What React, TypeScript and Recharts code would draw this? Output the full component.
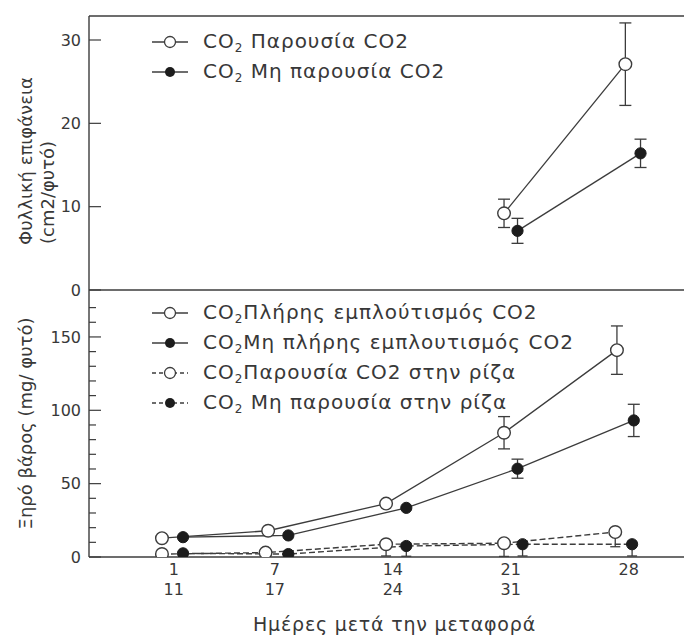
import React from 'react';
import { ComposedChart, Line, XAxis, YAxis, ErrorBar, ReferenceLine, Legend } from 'recharts';

const INK = '#383838';
const LINE = '#3c3c3c';
const FONT = '"DejaVu Sans", "Liberation Sans", sans-serif';

// shared day axis
const X_DOMAIN: [number, number] = [-4.03, 31.28];
const dayTicks = [1, 7, 14, 21, 28];
const dayTicksSecond = ['11', '17', '24', '31', ''];

// ---- top panel: Φυλλική επιφάνεια (cm2/φυτό)
const leafYDomain: [number, number] = [0, 32.88];
const leafYTicks = [0, 10, 20, 30];
const leafOpenX = [20.6, 27.8];
const leafOpenY = [9.2, 27.1];
const leafOpenErr = [1.7, 4.95];
const leafFilledX = [21.4, 28.7];
const leafFilledY = [7.1, 16.4];
const leafFilledErr = [1.5, 1.7];

// ---- bottom panel: Ξηρό βάρος (mg/ φυτό)
const dryYDomain: [number, number] = [0, 182];
const dryYTicks = [0, 50, 100, 150];
const dryMinorTicks = [10, 20, 30, 40, 60, 70, 80, 90, 110, 120, 130, 140, 160, 170];

const fullOpenX = [0.3, 6.6, 13.6, 20.6, 27.3];
const fullOpenY = [12.8, 17.9, 36.4, 84.7, 141];
const fullOpenErr = [0, 0, 0, 11, 16.5];

const partFilledX = [1.55, 7.8, 14.8, 21.4, 28.3];
const partFilledY = [13.5, 14.7, 33.5, 60.2, 93.1];
const partFilledErr = [0, 0, 0, 6.5, 11];

const rootOpenX = [0.3, 6.45, 13.6, 20.6, 27.2];
const rootOpenY = [2, 3, 8.7, 9.4, 17];
const rootOpenErr = [[1.5, 1.5], [1.5, 1.5], [8, 2], [9, 2], [10, 2]];

const rootFilledX = [1.55, 7.8, 14.8, 21.7, 28.2];
const rootFilledY = [2.5, 2, 7.5, 8.7, 8.7];
const rootFilledErr = [[1, 1], [1, 1], [7, 2], [8, 2], [8, 2]];

const topLegend = [
  { rest: ' Παρουσία CO2', filled: false, dashed: false },
  { rest: ' Μη παρουσία CO2', filled: true, dashed: false },
];
const bottomLegend = [
  { rest: 'Πλήρης εμπλούτισμός CO2', filled: false, dashed: false },
  { rest: 'Μη πλήρης εμπλουτισμός CO2', filled: true, dashed: false },
  { rest: 'Παρουσία CO2 στην ρίζα', filled: false, dashed: true },
  { rest: ' Μη παρουσία στην ρίζα', filled: true, dashed: true },
];

const zip = (xs: number[], ys: number[], es: any[]) => xs.map((x, i) => ({ x, y: ys[i], err: es[i] }));

const leafOpen = zip(leafOpenX, leafOpenY, leafOpenErr);
const leafFilled = zip(leafFilledX, leafFilledY, leafFilledErr);
const fullOpen = zip(fullOpenX, fullOpenY, fullOpenErr);
const partFilled = zip(partFilledX, partFilledY, partFilledErr);
const rootOpen = zip(rootOpenX, rootOpenY, rootOpenErr);
const rootFilled = zip(rootFilledX, rootFilledY, rootFilledErr);

const OpenDot = (props: any) => {
  const { cx, cy } = props;
  if (cx == null || cy == null) return null;
  return <circle cx={cx} cy={cy} r={6.3} fill="#fff" stroke={LINE} strokeWidth={1.4} />;
};
const FilledDot = (props: any) => {
  const { cx, cy } = props;
  if (cx == null || cy == null) return null;
  return <circle cx={cx} cy={cy} r={5.6} fill="#1c1c1c" stroke="#1c1c1c" strokeWidth={1} />;
};

const LegendBox = ({ items }: { items: typeof bottomLegend }) => (
  <div style={{ fontFamily: FONT, color: INK }}>
    {items.map((it) => (
      <div key={it.rest} style={{ display: 'flex', alignItems: 'center', height: 30 }}>
        <svg width={36} height={30} style={{ flex: 'none' }}>
          <line x1={0} x2={36} y1={15} y2={15} stroke={LINE} strokeWidth={1.3} strokeDasharray={it.dashed ? '4 3' : undefined} />
          {it.filled ? (
            <circle cx={18} cy={15} r={5} fill="#1c1c1c" />
          ) : (
            <circle cx={18} cy={15} r={5.5} fill="#fff" stroke={LINE} strokeWidth={1.3} />
          )}
        </svg>
        <span style={{ marginLeft: 15, fontSize: 20, letterSpacing: 1, whiteSpace: 'nowrap', lineHeight: '30px' }}>
          CO<span style={{ fontSize: 12, position: 'relative', top: 4 }}>2</span>
          {it.rest}
        </span>
      </div>
    ))}
  </div>
);

const DayTick = (props: any) => {
  const { x, y, payload } = props;
  const i = dayTicks.indexOf(payload.value);
  return (
    <g>
      <text x={x} y={y} dy={10} textAnchor="middle" fill={INK} fontSize={16}>
        {payload.value}
      </text>
      <text x={x} y={y} dy={30} textAnchor="middle" fill={INK} fontSize={16}>
        {dayTicksSecond[i]}
      </text>
    </g>
  );
};

const TopYTitle = () => (
  <g fill={INK} fontSize={18}>
    <text x={25} y={245} transform="rotate(-90 25 245)" dominantBaseline="central">
      Φυλλική επιφάνεια
    </text>
    <text x={47} y={244} transform="rotate(-90 47 244)" dominantBaseline="central">
      (cm2/φυτό)
    </text>
  </g>
);

const BottomYTitle = (props: any) => {
  const vb = props.viewBox || { y: 0, height: 267 };
  const cy = vb.y + vb.height / 2;
  return (
    <text x={25} y={cy} transform={`rotate(-90 25 ${cy})`} textAnchor="middle" dominantBaseline="central" fill={INK} fontSize={18}>
      Ξηρό βάρος (mg/ φυτό)
    </text>
  );
};

const XTitle = (props: any) => {
  const vb = props.viewBox || { x: 89, width: 595, y: 267 };
  return (
    <text x={vb.x + vb.width / 2 + 8} y={334} textAnchor="middle" dominantBaseline="central" fill={INK} fontSize={19} letterSpacing={0.8}>
      Ημέρες μετά την μεταφορά
    </text>
  );
};

const tickLen = (px: number) => px / 16.85;

export default function App() {
  return (
    <div style={{ position: 'absolute', left: 0, top: 0, width: 684, height: 637, background: '#fff', fontFamily: FONT }}>
      <div style={{ position: 'absolute', left: 0, top: 0 }}>
        <ComposedChart width={684} height={300} margin={{ top: 16, right: 0, bottom: 0, left: 0 }}>
          <XAxis type="number" dataKey="x" domain={X_DOMAIN} allowDataOverflow ticks={dayTicks} tick={false} tickLine={false} height={10} axisLine={{ stroke: LINE, strokeWidth: 1.4 }} />
          <YAxis type="number" width={89} domain={leafYDomain} allowDataOverflow ticks={leafYTicks} tickLine={false} axisLine={{ stroke: LINE, strokeWidth: 1.4 }} tick={{ fill: INK, fontSize: 16 }} label={<TopYTitle />} />
          <ReferenceLine y={leafYDomain[1]} stroke={LINE} strokeWidth={1.4} />
          {leafYTicks.map((v) => (
            <ReferenceLine key={'lt' + v} segment={[{ x: X_DOMAIN[0], y: v }, { x: X_DOMAIN[0] + tickLen(12), y: v }]} stroke={LINE} strokeWidth={1.2} />
          ))}
          <Line data={leafOpen} dataKey="y" stroke={LINE} strokeWidth={1.3} dot={<OpenDot />} isAnimationActive={false} legendType="none">
            <ErrorBar dataKey="err" direction="y" width={6} stroke={LINE} strokeWidth={1.3} isAnimationActive={false} />
          </Line>
          <Line data={leafFilled} dataKey="y" stroke={LINE} strokeWidth={1.3} dot={<FilledDot />} isAnimationActive={false} legendType="none">
            <ErrorBar dataKey="err" direction="y" width={6} stroke={LINE} strokeWidth={1.3} isAnimationActive={false} />
          </Line>
          <Legend layout="horizontal" align="center" verticalAlign="middle" content={() => <LegendBox items={topLegend} />} wrapperStyle={{ top: 27, left: 152, width: 'auto', height: 'auto' }} />
        </ComposedChart>
      </div>
      <div style={{ position: 'absolute', left: 0, top: 290 }}>
        <ComposedChart width={684} height={347} margin={{ top: 0, right: 0, bottom: 0, left: 0 }}>
          <XAxis type="number" dataKey="x" domain={X_DOMAIN} allowDataOverflow ticks={dayTicks} tickLine={false} height={80} axisLine={{ stroke: LINE, strokeWidth: 1.4 }} tick={<DayTick />} label={<XTitle />} />
          <YAxis type="number" width={89} domain={dryYDomain} allowDataOverflow ticks={dryYTicks} tickLine={false} axisLine={{ stroke: LINE, strokeWidth: 1.4 }} tick={{ fill: INK, fontSize: 16 }} label={<BottomYTitle />} />
          {dryYTicks.map((v) => (
            <ReferenceLine key={'dt' + v} segment={[{ x: X_DOMAIN[0], y: v }, { x: X_DOMAIN[0] + tickLen(12), y: v }]} stroke={LINE} strokeWidth={1.2} />
          ))}
          {dryMinorTicks.map((v) => (
            <ReferenceLine key={'dm' + v} segment={[{ x: X_DOMAIN[0], y: v }, { x: X_DOMAIN[0] + tickLen(7), y: v }]} stroke={LINE} strokeWidth={1.2} />
          ))}
          <Line data={rootOpen} dataKey="y" stroke={LINE} strokeWidth={1.4} strokeDasharray="6 3" dot={<OpenDot />} isAnimationActive={false} legendType="none">
            <ErrorBar dataKey="err" direction="y" width={5} stroke={LINE} strokeWidth={1.3} isAnimationActive={false} />
          </Line>
          <Line data={rootFilled} dataKey="y" stroke={LINE} strokeWidth={1.4} strokeDasharray="6 3" dot={<FilledDot />} isAnimationActive={false} legendType="none">
            <ErrorBar dataKey="err" direction="y" width={5} stroke={LINE} strokeWidth={1.3} isAnimationActive={false} />
          </Line>
          <Line data={fullOpen} dataKey="y" stroke={LINE} strokeWidth={1.3} dot={<OpenDot />} isAnimationActive={false} legendType="none">
            <ErrorBar dataKey="err" direction="y" width={6} stroke={LINE} strokeWidth={1.3} isAnimationActive={false} />
          </Line>
          <Line data={partFilled} dataKey="y" stroke={LINE} strokeWidth={1.3} dot={<FilledDot />} isAnimationActive={false} legendType="none">
            <ErrorBar dataKey="err" direction="y" width={6} stroke={LINE} strokeWidth={1.3} isAnimationActive={false} />
          </Line>
          <Legend layout="horizontal" align="center" verticalAlign="middle" content={() => <LegendBox items={bottomLegend} />} wrapperStyle={{ top: 8, left: 152, width: 'auto', height: 'auto' }} />
        </ComposedChart>
      </div>
    </div>
  );
}
